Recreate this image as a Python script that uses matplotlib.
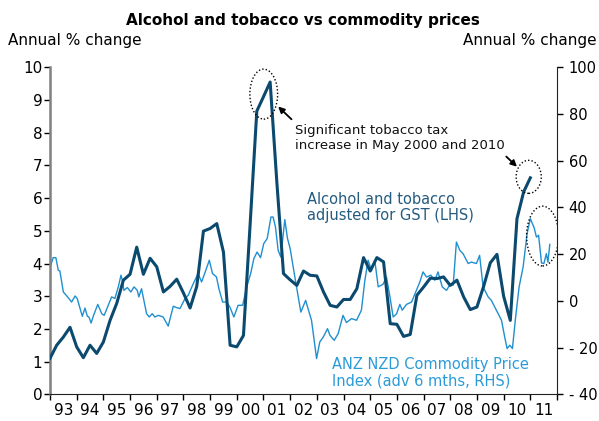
"""Alcohol and tobacco prices vs the ANZ NZD commodity price index."""

import matplotlib

matplotlib.use("Agg")
import matplotlib.pyplot as plt
import numpy as np
from matplotlib.patches import Ellipse

# Alcohol and tobacco prices adjusted for GST, annual % change, quarterly from 1993 (LHS)
alc_start = 1993.0
alc_values = [
    1.1, 1.5, 1.75, 2.05, 1.45, 1.12, 1.5, 1.25,
    1.6, 2.26, 2.78, 3.49, 3.67, 4.5, 3.67, 4.16,
    3.9, 3.13, 3.3, 3.52, 3.1, 2.64, 3.3, 4.99,
    5.07, 5.22, 4.35, 1.5, 1.45, 1.8, 5.2, 8.66,
    9.1, 9.55, 6.5, 3.69, 3.5, 3.33, 3.77, 3.64,
    3.62, 3.13, 2.72, 2.67, 2.9, 2.9, 3.23, 4.18,
    3.77, 4.18, 4.05, 2.16, 2.14, 1.77, 1.83, 3.03,
    3.28, 3.55, 3.54, 3.59, 3.33, 3.49, 2.98, 2.59,
    2.67, 3.3, 4.02, 4.28, 3.0, 2.26, 5.37, 6.19,
    6.62,
]

# ANZ NZD commodity price index, advanced 6 months, annual % change (RHS)
com_dates = [
    1993.00, 1993.12, 1993.22, 1993.31, 1993.37, 1993.50, 1993.63, 1993.81, 1993.94, 1994.02,
    1994.21, 1994.31, 1994.40, 1994.46, 1994.54, 1994.62, 1994.79, 1994.94, 1995.03, 1995.18,
    1995.31, 1995.43, 1995.56, 1995.66, 1995.71, 1995.77, 1995.90, 1996.03, 1996.15, 1996.27,
    1996.33, 1996.43, 1996.62, 1996.72, 1996.83, 1996.93, 1997.06, 1997.24, 1997.43, 1997.62,
    1997.75, 1997.87, 1998.06, 1998.18, 1998.37, 1998.55, 1998.68, 1998.83, 1998.97, 1999.09,
    1999.24, 1999.33, 1999.47, 1999.62, 1999.74, 1999.89, 2000.05, 2000.22, 2000.37, 2000.52,
    2000.64, 2000.76, 2000.89, 2001.01, 2001.14, 2001.28, 2001.36, 2001.45, 2001.55, 2001.65,
    2001.80, 2001.90, 2002.00, 2002.15, 2002.40, 2002.58, 2002.80, 2002.99, 2003.11, 2003.24,
    2003.40, 2003.49, 2003.65, 2003.80, 2003.98, 2004.11, 2004.30, 2004.49, 2004.67, 2004.80,
    2004.92, 2005.05, 2005.17, 2005.30, 2005.48, 2005.61, 2005.73, 2005.86, 2005.99, 2006.11,
    2006.20, 2006.36, 2006.55, 2006.73, 2006.86, 2006.98, 2007.11, 2007.27, 2007.42, 2007.54,
    2007.70, 2007.86, 2008.01, 2008.11, 2008.23, 2008.36, 2008.48, 2008.67, 2008.79, 2008.98,
    2009.10, 2009.23, 2009.42, 2009.54, 2009.73, 2009.92, 2010.04, 2010.13, 2010.23, 2010.33,
    2010.45, 2010.58, 2010.73, 2010.88, 2011.00, 2011.14, 2011.23, 2011.31, 2011.42, 2011.51,
    2011.60, 2011.66, 2011.73,
]
com_values = [
    14.2, 18.5, 18.5, 13.1, 12.8, 3.8, 2.1, -0.5, 2.1, 1.0,
    -6.6, -3.1, -6.6, -6.9, -9.5, -6.6, -1.5, -5.5, -6.2, -1.9,
    1.7, 1.0, 6.0, 11.0, 8.8, 4.5, 5.7, 3.8, 6.0, 4.5,
    1.7, 5.2, -5.5, -6.9, -5.5, -6.9, -6.2, -6.9, -10.8, -2.3,
    -2.9, -3.3, 1.0, 2.4, 7.4, 11.7, 8.1, 12.8, 17.4, 11.7,
    10.2, 5.2, -0.5, -0.5, -2.6, -6.9, -1.9, -1.9, 6.0, 11.7,
    18.1, 20.9, 18.5, 24.5, 26.7, 35.9, 35.9, 31.6, 21.6, 18.8,
    34.8, 26.7, 22.4, 12.0, -4.8, 0.2, -8.3, -24.7, -17.6, -15.5,
    -11.9, -14.7, -16.9, -14.0, -6.2, -9.3, -7.6, -8.3, -4.0, 8.8,
    17.4, 13.1, 17.4, 6.0, 7.1, 10.2, 2.4, -6.9, -5.5, -1.5,
    -4.0, -1.5, -0.5, 4.5, 8.1, 12.4, 10.2, 11.0, 8.8, 12.4,
    6.0, 4.5, 7.4, 6.7, 25.2, 21.6, 20.2, 16.0, 16.6, 16.0,
    19.5, 6.0, 1.7, 0.2, -4.0, -8.3, -15.5, -20.4, -19.0, -20.4,
    -6.9, 6.0, 14.5, 28.8, 35.2, 31.4, 27.3, 28.1, 16.2, 16.0,
    20.2, 16.6, 24.2,
]

year_ticks = list(range(1993, 2013))
year_labels = [f"{y % 100:02d}" for y in range(1993, 2012)]
lhs_ticks = list(range(0, 11))
rhs_ticks = list(range(-40, 101, 20))

DARK = "#0b4a6e"
LIGHT = "#1f8fd0"


def main() -> None:
    fig = plt.figure(figsize=(5.99, 4.21), dpi=100)
    ax = fig.add_axes([50 / 599, 1 - 394.3 / 421, 507 / 599, 327 / 421])
    ax2 = ax.twinx()

    alc_dates = alc_start + 0.25 * np.arange(len(alc_values))
    ax2.plot(com_dates, com_values, color=LIGHT, lw=1.0, zorder=2)
    ax.plot(alc_dates, alc_values, color=DARK, lw=2.2, zorder=3)
    ax.set_zorder(ax2.get_zorder() + 1)
    ax.patch.set_visible(False)

    ax.set_xlim(year_ticks[0], year_ticks[-1])
    ax.set_ylim(0, 10)
    ax2.set_ylim(-40, 100)

    ax.set_xticks(year_ticks)
    ax.set_xticklabels([])
    ax.set_xticks([y + 0.5 for y in year_ticks[:-1]], minor=True)
    ax.set_xticklabels(year_labels, minor=True)
    ax.tick_params(axis="x", which="major", direction="out", length=4, width=1, color="black")
    ax.tick_params(axis="x", which="minor", length=0, pad=6, labelsize=11)

    ax.set_yticks(lhs_ticks)
    ax.tick_params(axis="y", direction="out", length=4, width=1, pad=1.5, labelsize=11)
    ax2.set_yticks(rhs_ticks)
    ax2.set_yticklabels([f"- {abs(v)}" if v < 0 else str(v) for v in rhs_ticks])
    ax2.tick_params(axis="y", direction="out", length=4, width=1, pad=4.5, labelsize=10.5)

    for a in (ax, ax2):
        a.spines["top"].set_visible(False)
    ax.spines["left"].set_color("#808080")
    ax.spines["left"].set_linewidth(1.8)
    ax2.spines["left"].set_visible(False)
    ax.spines["right"].set_visible(False)
    ax2.spines["right"].set_color("#222222")
    ax2.spines["bottom"].set_visible(False)
    ax.spines["bottom"].set_color("#222222")

    # dotted circles around the tax-driven spikes
    for (cx, cy, w, h) in [(2001.01, 9.18, 1.04, 1.53), (2010.94, 6.65, 0.94, 1.01),
                           (2011.46, 4.84, 1.2, 1.83)]:
        ax.add_patch(Ellipse((cx, cy), w, h, fill=False, ls=(0, (1, 1.5)), lw=1.0,
                             edgecolor="black", zorder=4))

    arrow = dict(arrowstyle="-|>", color="black", lw=1.3, mutation_scale=9, shrinkA=0, shrinkB=0)
    ax.annotate("", xy=(2001.55, 8.80), xytext=(2002.05, 8.41), arrowprops=arrow)
    ax.annotate("", xy=(2010.50, 6.96), xytext=(2010.10, 7.27), arrowprops=arrow)

    ax.text(2002.18, 7.84, "Significant tobacco tax\nincrease in May 2000 and 2010",
            fontsize=9.5, ha="left", va="center", linespacing=1.2, color="#111111")
    ax.text(2002.63, 5.71, "Alcohol and tobacco\nadjusted for GST (LHS)",
            fontsize=10.5, ha="left", va="center", linespacing=1.12, color="#245b80")
    ax.text(2003.57, 0.65, "ANZ NZD Commodity Price\nIndex (adv 6 mths, RHS)",
            fontsize=10.5, ha="left", va="center", linespacing=1.15, color="#2b9bd8")

    fig.text(303 / 599, 1 - 20 / 421, "Alcohol and tobacco vs commodity prices",
             ha="center", va="center", fontsize=11, fontweight="bold")
    fig.text(8 / 599, 1 - 41 / 421, "Annual % change", ha="left", va="center", fontsize=11)
    fig.text(597 / 599, 1 - 41 / 421, "Annual % change", ha="right", va="center", fontsize=11)

    fig.savefig("out.png", dpi=100)
    plt.close(fig)


if __name__ == "__main__":
    main()
